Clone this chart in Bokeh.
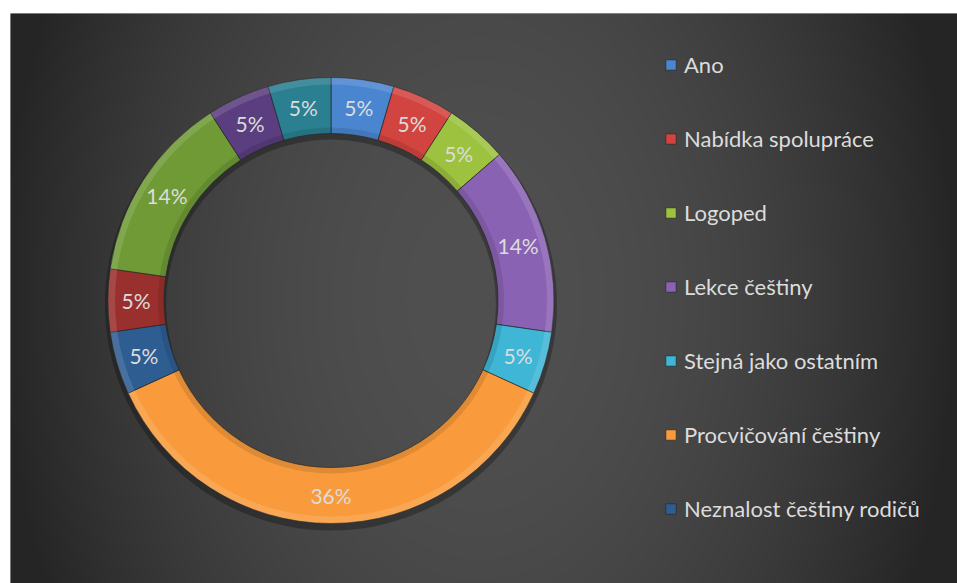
import numpy as np
from bokeh.plotting import figure
from bokeh.models import Range1d, Legend, LegendItem, ColumnDataSource
from bokeh.core.properties import value
from bokeh.embed import file_html
from bokeh.resources import INLINE

# ---- data ----
legend_labels = ["Ano", "Nabídka spolupráce", "Logoped", "Lekce češtiny",
                 "Stejná jako ostatním", "Procvičování češtiny", "Neznalost češtiny rodičů"]
counts = [1, 1, 1, 3, 1, 8, 1, 1, 3, 1, 1]
colors = ["#4a86cf", "#d2443f", "#9cc23f", "#8a62b3", "#3fb6d6", "#f99b3c",
          "#2e5d92", "#9a302d", "#6f9a36", "#5b3e7f", "#2a7f91"]

# ---- layout ----
W, H = 957, 583
FW, FH = 947, 570
cx, cy = 320.5, 283.0
r_in, r_out = 167.0, 223.0
FONT = "Lato"
TXT = "#dcdcdc"

total = float(sum(counts))
cum = np.concatenate([[0.0], np.cumsum(counts)])
start = np.pi / 2 - cum[:-1] / total * 2 * np.pi
end = np.pi / 2 - cum[1:] / total * 2 * np.pi
mid = (start + end) / 2
pct = [f"{round(c / total * 100):.0f}%" for c in counts]
r_mid = (r_in + r_out) / 2

src = ColumnDataSource(dict(
    x=[cx] * len(counts), y=[cy] * len(counts),
    start=list(end), end=list(start), color=colors,
    lx=list(cx + r_mid * np.cos(mid)), ly=list(cy + r_mid * np.sin(mid)),
    label=pct,
))

p = figure(width=W, height=H, x_range=Range1d(0, FW), y_range=Range1d(0, FH),
           output_backend="svg", toolbar_location=None,
           x_axis_location=None, y_axis_location=None,
           min_border_left=10, min_border_top=13, min_border_right=0, min_border_bottom=0,
           border_fill_color="white", outline_line_color=None,
           background_fill_color="#333333")
p.grid.visible = False

# background radial gradient
yy, xx = np.mgrid[0:FH, 0:FW]
gx, gy = 468.0, FH / 2
d2 = ((xx - gx) / 480.0) ** 2 + ((yy - gy) / 700.0) ** 2
t = np.clip(d2, 0, 1)
g = (80 - 43 * t).astype(np.uint8)
img = np.empty((FH, FW), dtype=np.uint32)
view = img.view(dtype=np.uint8).reshape((FH, FW, 4))
view[:, :, 0] = g
view[:, :, 1] = g
view[:, :, 2] = g
view[:, :, 3] = 255
p.image_rgba(image=[img], x=0, y=0, dw=FW, dh=FH)

# shadow
p.annular_wedge(x=cx, y=cy - 4, inner_radius=r_in - 2, outer_radius=r_out + 3,
                start_angle=0, end_angle=2 * np.pi, fill_color="black", fill_alpha=0.28,
                line_color=None)

wedges = p.annular_wedge(x="x", y="y", inner_radius=r_in, outer_radius=r_out,
                         start_angle="start", end_angle="end", source=src,
                         fill_color="color", line_color="#2a2a2a", line_alpha=0.7, line_width=1)
# bevel highlights
p.annular_wedge(x="x", y="y", inner_radius=r_out - 7, outer_radius=r_out,
                start_angle="start", end_angle="end", source=src,
                fill_color="white", fill_alpha=0.12, line_color=None)
p.annular_wedge(x="x", y="y", inner_radius=r_in, outer_radius=r_in + 6,
                start_angle="start", end_angle="end", source=src,
                fill_color="black", fill_alpha=0.10, line_color=None)

p.text(x="lx", y="ly", text="label", source=src, text_align="center",
       text_baseline="middle", text_font=value(FONT), text_font_size="21px",
       text_color=TXT)

legend = Legend(items=[LegendItem(label=lab, renderers=[wedges], index=i)
                       for i, lab in enumerate(legend_labels)],
                location=(654, 61), orientation="vertical",
                glyph_width=13, glyph_height=13, label_standoff=7,
                label_text_font=FONT, label_text_font_size="22px",
                label_text_color=TXT, spacing=47, padding=0, margin=0,
                background_fill_alpha=0, border_line_alpha=0)
p.add_layout(legend)

open("out.html", "w").write(file_html(p, INLINE))
